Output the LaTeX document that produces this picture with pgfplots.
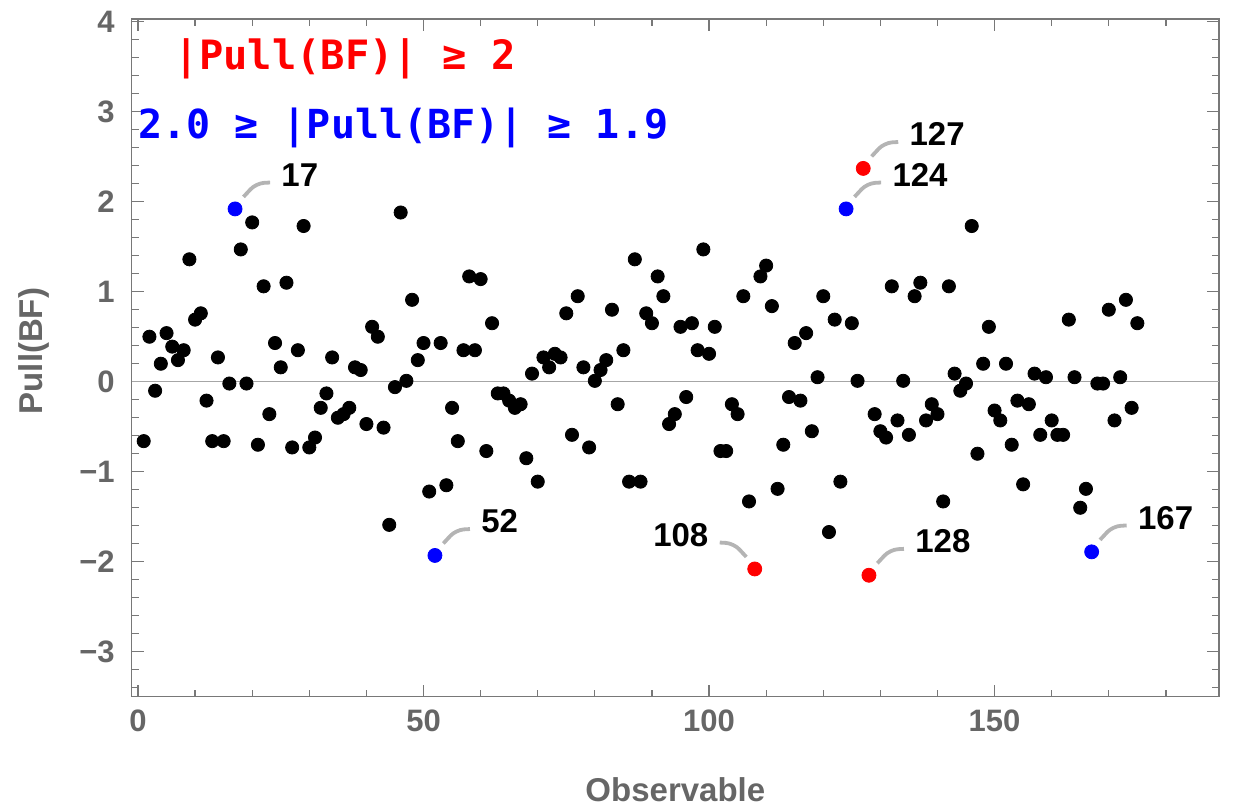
\documentclass[border=0pt]{standalone}
\usepackage{fontspec}
\setmainfont{Liberation Sans}
\newfontfamily\monofont{DejaVu Sans Mono}
\usepackage{pgfplots}
\pgfplotsset{compat=1.18}
\definecolor{tickgray}{RGB}{102,102,102}
\definecolor{framegray}{RGB}{120,120,120}
\definecolor{callgray}{RGB}{180,180,180}
\newcommand{\callR}[3]{%
  \draw[callgray, line width=1.9pt, rounded corners=4pt]
    ([shift={(4.2pt,6.0pt)}]axis cs:#1,#2) -- ([shift={(10.5pt,12.8pt)}]axis cs:#1,#2) -- ([shift={(17.5pt,13.2pt)}]axis cs:#1,#2);
  \node[anchor=west, inner sep=0pt, font=\fontsize{16.5}{18}\selectfont\bfseries] at ([shift={(23pt,17pt)}]axis cs:#1,#2) {#3};
}
\begin{document}
\begin{tikzpicture}
\begin{axis}[
  scale only axis, width=543.6pt, height=338.85pt,
  xmin=-1.1, xmax=189.3, ymin=-3.5, ymax=4.03,
  axis line style={framegray, line width=0.6pt},
  every tick/.style={framegray, line width=0.6pt},
  major tick length=6pt, minor tick length=3.5pt,
  xtick={0,50,100,150},
  minor xtick={10,20,30,40,60,70,80,90,110,120,130,140,160,170,180},
  ytick={-3,-2,-1,0,1,2,3,4},
  yticklabels={−3,−2,−1,0,1,2,3,4},
  minor ytick={-3.4,-3.2,-2.8,-2.6,-2.4,-2.2,-1.8,-1.6,-1.4,-1.2,-0.8,-0.6,-0.4,-0.2,0.2,0.4,0.6,0.8,1.2,1.4,1.6,1.8,2.2,2.4,2.6,2.8,3.2,3.4,3.6,3.8},
  /pgf/number format/assume math mode=true,
  tick label style={font=\fontsize{15.5}{17}\selectfont\bfseries, text=tickgray},
  xticklabel style={yshift=-3pt},
  yticklabel style={xshift=-5pt},
  xlabel={Observable}, ylabel={Pull(BF)},
  label style={font=\fontsize{16.5}{18}\selectfont\bfseries, text=tickgray},
  x label style={at={(axis description cs:0.5,-0.137)}, anchor=center},
  y label style={at={(axis description cs:-0.0902,0.51)}, anchor=center},
  extra y ticks={0}, extra y tick labels={},
  extra y tick style={grid=major, major grid style={gray!70, line width=0.6pt}, major tick length=0pt},
  clip=false,
]
% black points
\addplot[only marks, mark=*, mark size=3.3pt, black] coordinates {
(1,-0.66) (2,0.50) (3,-0.10) (4,0.20) (5,0.54) (6,0.39) (7,0.24) (8,0.35) (9,1.36) (10,0.69)
(11,0.76) (12,-0.21) (13,-0.66) (14,0.27) (15,-0.66) (16,-0.02) (18,1.47) (19,-0.02) (20,1.77)
(21,-0.70) (22,1.06) (23,-0.36) (24,0.43) (25,0.16) (26,1.10) (27,-0.73) (28,0.35) (29,1.73) (30,-0.73)
(31,-0.62) (32,-0.29) (33,-0.13) (34,0.27) (35,-0.40) (36,-0.36) (37,-0.29) (38,0.16) (39,0.13) (40,-0.47)
(41,0.61) (42,0.50) (43,-0.51) (44,-1.59) (45,-0.06) (46,1.88) (47,0.01) (48,0.91) (49,0.24) (50,0.43)
(51,-1.22) (53,0.43) (54,-1.15) (55,-0.29) (56,-0.66) (57,0.35) (58,1.17) (59,0.35) (60,1.14)
(61,-0.77) (62,0.65) (63,-0.13) (64,-0.13) (65,-0.21) (66,-0.29) (67,-0.25) (68,-0.85) (69,0.09) (70,-1.11)
(71,0.27) (72,0.16) (73,0.31) (74,0.27) (75,0.76) (76,-0.59) (77,0.95) (78,0.16) (79,-0.73) (80,0.01)
(81,0.13) (82,0.24) (83,0.80) (84,-0.25) (85,0.35) (86,-1.11) (87,1.36) (88,-1.11) (89,0.76) (90,0.65)
(91,1.17) (92,0.95) (93,-0.47) (94,-0.36) (95,0.61) (96,-0.17) (97,0.65) (98,0.35) (99,1.47) (100,0.31)
(101,0.61) (102,-0.77) (103,-0.77) (104,-0.25) (105,-0.36) (106,0.95) (107,-1.33) (109,1.17) (110,1.29)
(111,0.84) (112,-1.19) (113,-0.70) (114,-0.17) (115,0.43) (116,-0.21) (117,0.54) (118,-0.55) (119,0.05) (120,0.95)
(121,-1.67) (122,0.69) (123,-1.11) (125,0.65) (126,0.01) (129,-0.36) (130,-0.55)
(131,-0.62) (132,1.06) (133,-0.43) (134,0.01) (135,-0.59) (136,0.95) (137,1.10) (138,-0.43) (139,-0.25) (140,-0.36)
(141,-1.33) (142,1.06) (143,0.09) (144,-0.10) (145,-0.02) (146,1.73) (147,-0.80) (148,0.20) (149,0.61) (150,-0.32)
(151,-0.43) (152,0.20) (153,-0.70) (154,-0.21) (155,-1.14) (156,-0.25) (157,0.09) (158,-0.59) (159,0.05) (160,-0.43)
(161,-0.59) (162,-0.59) (163,0.69) (164,0.05) (165,-1.40) (166,-1.19) (168,-0.02) (169,-0.02) (170,0.80)
(171,-0.43) (172,0.05) (173,0.91) (174,-0.29) (175,0.65)
};
% red points
\addplot[only marks, mark=*, mark size=3.5pt, color={rgb,255:red,255;green,0;blue,0}] coordinates {
(108,-2.08) (127,2.37) (128,-2.15)
};
% blue points
\addplot[only marks, mark=*, mark size=3.5pt, color={rgb,255:red,0;green,0;blue,255}] coordinates {
(17,1.92) (52,-1.93) (124,1.92) (167,-1.89)
};
% callouts (right-up)
\callR{17}{1.92}{17}
\callR{52}{-1.93}{52}
\callR{124}{1.92}{124}
\callR{127}{2.37}{127}
\callR{128}{-2.15}{128}
\callR{167}{-1.89}{167}
% callout (left-up) for 108
\draw[callgray, line width=1.9pt, rounded corners=4pt]
  ([shift={(-4.2pt,6.0pt)}]axis cs:108,-2.08) -- ([shift={(-10.5pt,12.8pt)}]axis cs:108,-2.08) -- ([shift={(-17.5pt,13.2pt)}]axis cs:108,-2.08);
\node[anchor=east, inner sep=0pt, font=\fontsize{16.5}{18}\selectfont\bfseries] at ([shift={(-23pt,17pt)}]axis cs:108,-2.08) {108};
% legend texts
\node[anchor=west, inner sep=0pt, font=\monofont\fontsize{20.2}{22}\selectfont\bfseries, text={rgb,255:red,255;green,0;blue,0}] at (axis cs:6.4,3.59) {|Pull(BF)| ≥ 2};
\node[anchor=west, inner sep=0pt, font=\monofont\fontsize{20}{22}\selectfont\bfseries, text={rgb,255:red,0;green,0;blue,255}] at (axis cs:0.0,2.82) {2.0 ≥ |Pull(BF)| ≥ 1.9};
\end{axis}
\pgfresetboundingbox
\path ([shift={(-65.85pt,-54.5pt)}]current axis.south west) rectangle ([shift={(8pt,9.5pt)}]current axis.north east);
\end{tikzpicture}
\end{document}
